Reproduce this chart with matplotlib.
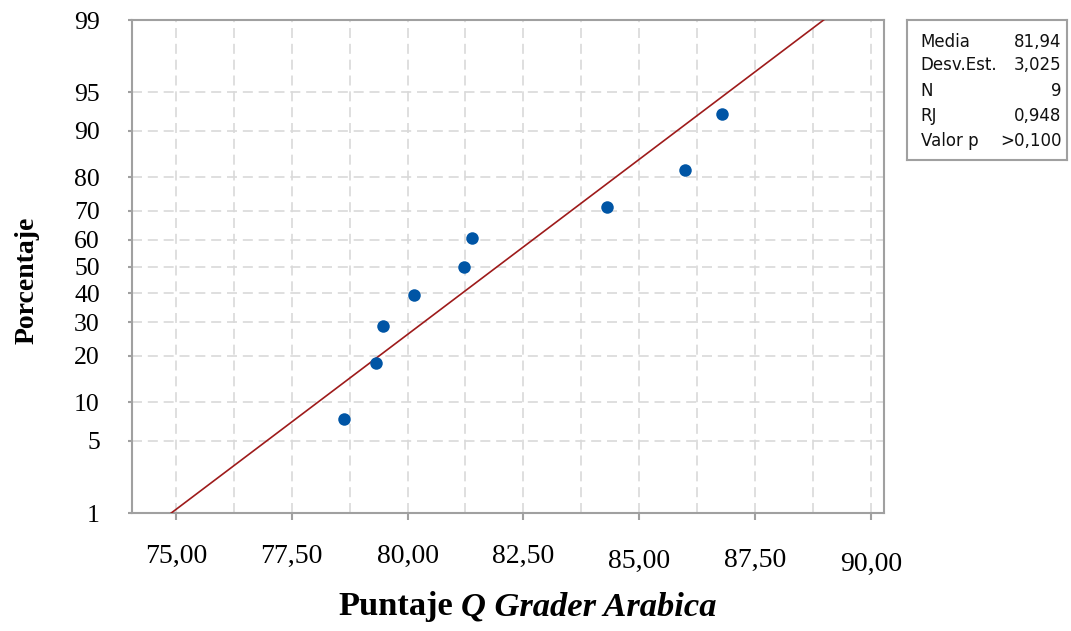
import numpy as np
import matplotlib
matplotlib.use("Agg")
import matplotlib.pyplot as plt
from matplotlib.ticker import FixedLocator, MultipleLocator
from matplotlib.transforms import ScaledTranslation
from statistics import NormalDist

# datos (puntajes ordenados) y estadisticos del ajuste
puntajes = [78.64, 79.32, 79.47, 80.15, 81.22, 81.39, 84.31, 85.99, 86.79]
media = 81.94
desv = 3.025
y_ticks = [1, 5, 10, 20, 30, 40, 50, 60, 70, 80, 90, 95, 99]
x_ticks = [75.0, 77.5, 80.0, 82.5, 85.0, 87.5, 90.0]
stat_names = ["Media", "Desv.Est.", "N", "RJ", "Valor p"]
stat_vals = ["81,94", "3,025", "9", "0,948", ">0,100"]

nd = NormalDist()
n = len(puntajes)
# rangos medianos (Benard), como Minitab
pct = [(i - 0.3) / (n + 0.4) for i in range(1, n + 1)]
z_pts = [nd.inv_cdf(p) for p in pct]
z_lo, z_hi = nd.inv_cdf(0.01), nd.inv_cdf(0.99)

fig = plt.figure(figsize=(10.71, 6.31), dpi=100)
ax = fig.add_axes([0.123, 0.187, 0.7024, 0.7813])

grid_c = "#d9d9d9"
spine_c = "#a0a0a0"

# linea ajustada (recta en escala normal)
ax.plot([media + desv * z_lo, media + desv * z_hi], [z_lo, z_hi],
        color="#9e1b1b", lw=1.2, zorder=3)
ax.plot(puntajes, z_pts, "o", color="#0055a5", ms=9, mec="none", zorder=4)

ax.set_xlim(74.05, 90.28)
ax.set_ylim(z_lo, z_hi)

ax.yaxis.set_major_locator(FixedLocator([nd.inv_cdf(v / 100) for v in y_ticks]))
ax.set_yticklabels([str(v) for v in y_ticks])
ax.xaxis.set_major_locator(FixedLocator(x_ticks))
ax.set_xticklabels([f"{v:.2f}".replace(".", ",") for v in x_ticks])
ax.xaxis.set_minor_locator(MultipleLocator(1.25))

ax.grid(True, which="both", color=grid_c, linestyle=(0, (6, 3.5)), lw=1.2, zorder=0)
ax.grid(False, which="minor", axis="y")

for s in ax.spines.values():
    s.set_color(spine_c)
    s.set_linewidth(1.5)

ax.tick_params(axis="x", which="major", length=5, width=1.5, color=spine_c,
               pad=17, labelsize=20, labelfontfamily="Liberation Serif")
ax.tick_params(axis="x", which="minor", length=0)
ax.tick_params(axis="y", length=3, width=1.5, color=spine_c, pad=20,
               labelsize=18.5, labelfontfamily="Liberation Serif")

# las etiquetas de la derecha quedan un poco mas abajo en el original
desfase = [0, 0, 0, 0, 5.5, 4, 8.5]
for lbl, d in zip(ax.get_xticklabels(), desfase):
    lbl.set_transform(lbl.get_transform() + ScaledTranslation(0, -d / 100, fig.dpi_scale_trans))

# etiquetas de ejes
fig.text(27 / 1071, 1 - 280 / 631, "Porcentaje", rotation=90, ha="center",
         va="center", fontsize=20, fontweight="bold", family="Liberation Serif")
t1 = fig.text(338 / 1071, 1 - 607 / 631, "Puntaje", ha="left", va="center",
              fontsize=24.8, fontweight="bold", family="Liberation Serif")
ax.annotate("Q Grader Arabica", xy=(1, 0), xycoords=t1, xytext=(6, 0),
            textcoords="offset points", ha="left", va="bottom", fontsize=24.8,
            fontweight="bold", fontstyle="italic", family="Liberation Serif",
            annotation_clip=False)

# cuadro de estadisticos
bx = fig.add_axes([907.3 / 1071, 1 - 160 / 631, (1066.7 - 907.3) / 1071, 140 / 631])
bx.set_xticks([])
bx.set_yticks([])
for s in bx.spines.values():
    s.set_color(spine_c)
    s.set_linewidth(1.5)
row_y = [41.7, 64.5, 91, 116, 141]
for name, val, yy in zip(stat_names, stat_vals, row_y):
    fig.text(920.7 / 1071, 1 - yy / 631, name, ha="left", va="center",
             fontsize=12, family="DejaVu Sans", color="#111111")
    fig.text(1061.7 / 1071, 1 - yy / 631, val, ha="right", va="center",
             fontsize=12, family="DejaVu Sans", color="#111111")

fig.savefig("out.png", dpi=100)
